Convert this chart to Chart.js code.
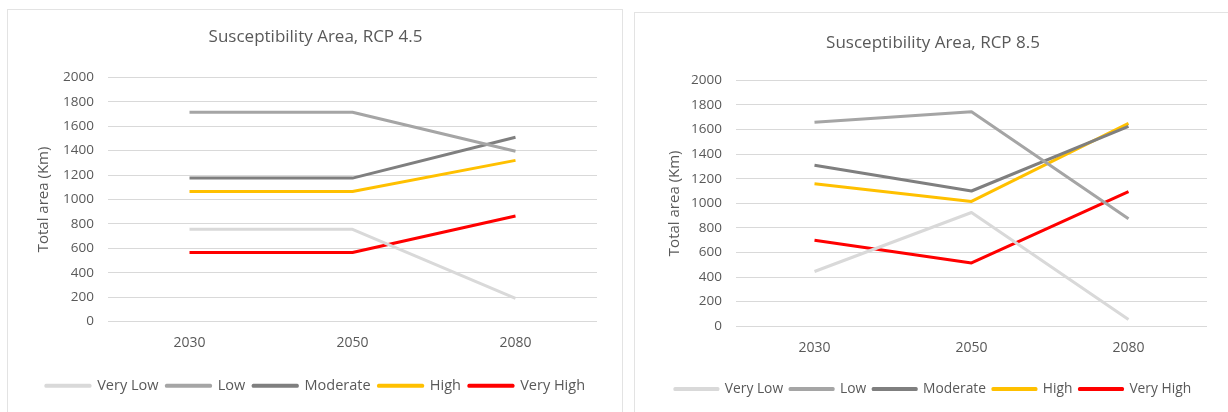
<!DOCTYPE html>
<html lang="en">
<head>
  <meta charset="UTF-8">
  <title>Susceptibility Area, RCP 4.5 / 8.5</title>
  <script src="https://cdn.jsdelivr.net/npm/chart.js"></script>
  <style>
    body {
      margin: 0;
      width: 1228px;
      height: 412px;
      overflow: hidden;
      background: #ffffff;
      position: relative;
    }
    .box {
      position: absolute;
      border: 1px solid #e3e3e3;
      background: #ffffff;
    }
    #box45 { left: 7px; top: 9px; width: 614px; height: 410px; }
    #box85 { left: 634px; top: 12px; width: 600px; height: 410px; }
    canvas { display: block; }
  </style>
</head>
<body>
  <div class="box" id="box45"><canvas id="chart45" width="614" height="402"></canvas></div>
  <div class="box" id="box85"><canvas id="chart85" width="593" height="399"></canvas></div>

  <script>
    // categories and series (Total area, Km)
    const years = ['2030', '2050', '2080'];
    const classes = ['Very Low', 'Low', 'Moderate', 'High', 'Very High'];
    const colours = ['#d9d9d9', '#a5a5a5', '#7f7f7f', '#ffc000', '#ff0000'];

    const rcp45VeryLow = [755, 755, 190];
    const rcp45Low = [1715, 1715, 1395];
    const rcp45Moderate = [1175, 1175, 1510];
    const rcp45High = [1065, 1065, 1320];
    const rcp45VeryHigh = [565, 565, 865];

    const rcp85VeryLow = [445, 925, 55];
    const rcp85Low = [1660, 1745, 875];
    const rcp85Moderate = [1310, 1100, 1625];
    const rcp85High = [1160, 1015, 1650];
    const rcp85VeryHigh = [700, 515, 1095];

    const yTicks = [0, 200, 400, 600, 800, 1000, 1200, 1400, 1600, 1800, 2000];

    const textColour = '#595959';
    const fontFamily = '"Open Sans", Lato, sans-serif';

    function makeChart(canvasId, title, series, lay) {
      const datasets = series.map((values, i) => ({
        label: classes[i],
        data: values,
        borderColor: colours[i],
        backgroundColor: colours[i],
        borderWidth: 3,
        pointRadius: 0,
        tension: 0,
        borderJoinStyle: 'round',
      }));

      return new Chart(document.getElementById(canvasId), {
        type: 'line',
        data: { labels: years, datasets: datasets },
        options: {
          responsive: false,
          animation: false,
          events: [],
          layout: {
            padding: { left: lay.padLeft, right: lay.padRight, top: 0, bottom: lay.padBottom },
          },
          plugins: {
            tooltip: { enabled: false },
            title: {
              display: true,
              text: title,
              color: textColour,
              font: { family: fontFamily, size: 17, weight: 'normal' },
              padding: { top: lay.titleTop, bottom: lay.titleBottom },
            },
            legend: {
              position: 'bottom',
              labels: {
                color: textColour,
                font: { family: fontFamily, size: lay.legendSize },
                boxWidth: lay.legendBox,
                boxHeight: 1,
                padding: lay.legendPad,
              },
            },
          },
          scales: {
            x: {
              offset: true,
              grid: { display: false, drawTicks: false },
              border: { display: false },
              ticks: {
                color: textColour,
                font: { family: fontFamily, size: 14 },
                padding: lay.xPad,
              },
              afterFit: (scale) => { scale.height = lay.xHeight; },
            },
            y: {
              min: 0,
              max: 2000,
              afterBuildTicks: (scale) => {
                scale.ticks = yTicks.map(v => ({ value: v }));
              },
              grid: { color: '#d9d9d9', lineWidth: 1, drawTicks: false },
              border: { display: false },
              ticks: {
                color: textColour,
                font: { family: fontFamily, size: 13.5 },
                padding: 14,
                callback: (value) => String(value),
              },
              title: {
                display: true,
                text: 'Total area (Km)',
                color: textColour,
                font: { family: fontFamily, size: 15 },
                padding: { top: lay.yTitleLeft, bottom: 0 },
              },
              afterFit: (scale) => { scale.width = lay.yWidth; },
            },
          },
        },
      });
    }

    makeChart('chart45', 'Susceptibility Area, RCP 4.5',
      [rcp45VeryLow, rcp45Low, rcp45Moderate, rcp45High, rcp45VeryHigh],
      { padLeft: 26, padRight: 25, padBottom: 9, titleTop: 17, titleBottom: 30, xHeight: 49, xPad: 13,
        yWidth: 74, yTitleLeft: 1, legendSize: 14.5, legendBox: 44, legendPad: 8 });

    makeChart('chart85', 'Susceptibility Area, RCP 8.5',
      [rcp85VeryLow, rcp85Low, rcp85Moderate, rcp85High, rcp85VeryHigh],
      { padLeft: 24, padRight: 21, padBottom: 6, titleTop: 20, titleBottom: 27, xHeight: 49, xPad: 13,
        yWidth: 77, yTitleLeft: 7, legendSize: 13.8, legendBox: 43, legendPad: 7 });
  </script>
</body>
</html>
